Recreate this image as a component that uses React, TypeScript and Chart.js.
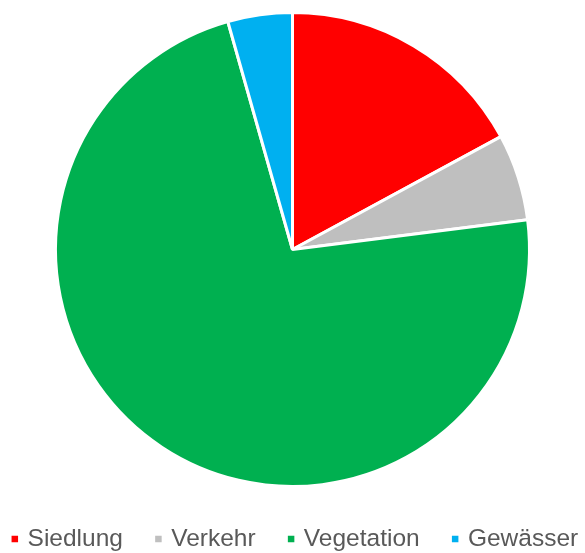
import React, { useEffect, useRef } from "react";
import { Chart, registerables } from "chart.js";

Chart.register(...registerables);

const categories: string[] = ["Siedlung", "Verkehr", "Vegetation", "Gewässer"];
const shares: number[] = [17.1, 5.9, 72.6, 4.4];
const colors: string[] = ["#FF0000", "#BFBFBF", "#00B050", "#00B0F0"];

export default function App() {
  const ref = useRef<HTMLCanvasElement | null>(null);

  useEffect(() => {
    if (!ref.current) return;
    const baseGen = (Chart as any).overrides.pie.plugins.legend.labels.generateLabels;
    const chart = new Chart(ref.current, {
      type: "pie",
      data: {
        labels: categories,
        datasets: [
          {
            data: shares,
            backgroundColor: colors,
            borderColor: "#FFFFFF",
            borderWidth: 3,
          },
        ],
      },
      options: {
        animation: false,
        responsive: false,
        maintainAspectRatio: false,
        radius: 237,
        layout: { padding: { top: 7.25, bottom: -8.25, left: -30, right: -37.5 } },
        plugins: {
          tooltip: { enabled: false },
          legend: {
            position: "bottom",
            labels: {
              usePointStyle: true,
              pointStyle: "rect",
              boxWidth: 1,
              boxHeight: 6.5,
              padding: 35,
              color: "#595959",
              font: { family: "'Liberation Sans', Arial, sans-serif", size: 24.5 },
              generateLabels: (c: any) =>
                baseGen(c).map((l: any) => ({ ...l, lineWidth: 0, strokeStyle: "rgba(0,0,0,0)" })),
            },
          },
        },
      } as any,
    });
    return () => chart.destroy();
  }, []);

  return (
    <div style={{ position: "absolute", left: 0, top: 0, width: 585, height: 553, background: "#FFFFFF" }}>
      <canvas ref={ref} width={585} height={553} style={{ display: "block", width: 585, height: 553 }} />
    </div>
  );
}
